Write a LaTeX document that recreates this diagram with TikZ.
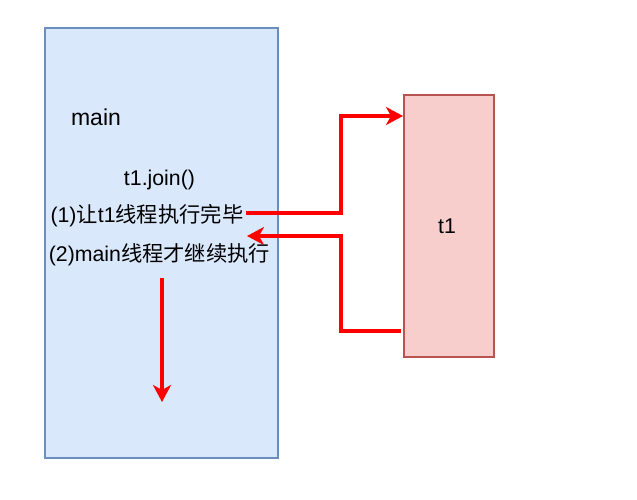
\documentclass[tikz,border=0pt]{standalone}
\usepackage{fontspec}
\setmainfont{Liberation Sans}
\newfontfamily\cjk{Noto Sans CJK SC}
\usetikzlibrary{arrows.meta}
\definecolor{mainfill}{HTML}{DAE8FC}
\definecolor{maindraw}{HTML}{6C8EBF}
\definecolor{tfill}{HTML}{F8CECC}
\definecolor{tdraw}{HTML}{B85450}
\begin{document}
\begin{tikzpicture}[x=1pt,y=-1pt,
  box/.style={draw, line width=1.6pt, inner sep=0pt, anchor=north west},
  lbl/.style={font=\fontsize{21.3}{25}\selectfont, inner sep=0pt},
  arr/.style={draw=red, line width=3.2pt, -{Stealth[length=17pt,width=18pt,inset=5pt]}}]
\useasboundingbox (0,0) rectangle (637,499);
\node[box, fill=mainfill, draw=maindraw, minimum width=233pt, minimum height=430pt] (mainbox) at (44,27) {};
\node[box, fill=tfill, draw=tdraw, minimum width=90pt, minimum height=262pt] (t1box) at (403,94) {};
\node[lbl, font=\fontsize{23}{27}\selectfont] (mainlbl) at (96,117) {main};
\node[lbl] (join) at (159.5,180) {t1.join()};
\node[lbl] (step1) at (147,216) {(1){\cjk 让}t1{\cjk 线程执行完毕}};
\node[lbl] (step2) at (159.5,255) {(2)main{\cjk 线程才继续执行}};
\node[lbl] (t1lbl) at (447,226) {t1};
\coordinate (a1s) at (246,213);
\coordinate (a1e) at (403,116);
\coordinate (a2s) at (401,331);
\coordinate (a2e) at (247,236);
\coordinate (a3s) at (162,278);
\coordinate (a3e) at (162,402);
\draw[arr] (a1s) -- (341,213) -- (341,116) -- (a1e);
\draw[arr] (a2s) -- (341,331) -- (341,236) -- (a2e);
\draw[arr] (a3s) -- (a3e);
\end{tikzpicture}
\end{document}
